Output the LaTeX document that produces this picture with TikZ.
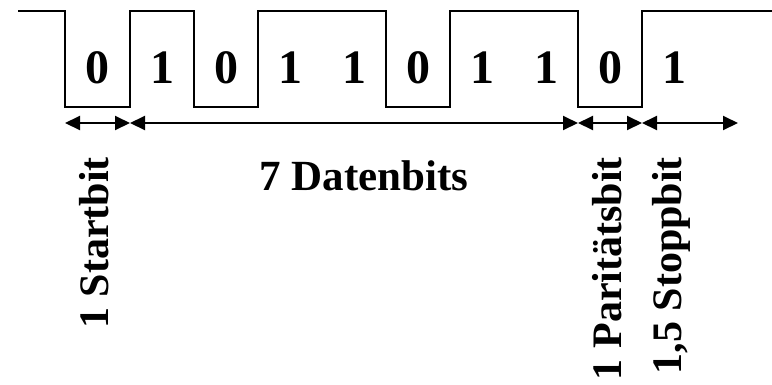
\documentclass[tikz,border=0pt]{standalone}
\usepackage{fontspec}
\setmainfont{Liberation Serif}
\usetikzlibrary{arrows.meta}
\tikzset{
  sig/.style={line width=2pt, line join=miter},
  dim/.style={line width=2pt, {Triangle[length=15pt,width=14pt]}-{Triangle[length=15pt,width=14pt]}, shorten <=0pt, shorten >=0pt},
  digit/.style={anchor=base, inner sep=0pt, font=\fontsize{48}{48}\selectfont\bfseries},
  lbl/.style={inner sep=0pt, font=\fontsize{43}{43}\selectfont\bfseries},
  vlbl/.style={inner sep=0pt, font=\fontsize{42}{42}\selectfont\bfseries, rotate=90, anchor=base east}
}
\begin{document}
\begin{tikzpicture}[x=1pt,y=-1pt]
\useasboundingbox (0,0) rectangle (772,384);
% waveform
\draw[sig] (18,11) -- (65,11) -- (65,107) -- (130,107) -- (130,11) -- (194,11)
  -- (194,107) -- (258,107) -- (258,11) -- (386,11) -- (386,107) -- (450,107)
  -- (450,11) -- (578,11) -- (578,107) -- (642,107) -- (642,11) -- (772,11);
% bit values
\node[digit] (d1) at (97.5,83) {0};
\node[digit] (d2) at (162,83) {1};
\node[digit] (d3) at (226,83) {0};
\node[digit] (d4) at (290,83) {1};
\node[digit] (d5) at (354,83) {1};
\node[digit] (d6) at (418,83) {0};
\node[digit] (d7) at (482,83) {1};
\node[digit] (d8) at (546,83) {1};
\node[digit] (d9) at (610,83) {0};
\node[digit] (d10) at (674,83) {1};
% dimension arrows
\coordinate (a0) at (65,123);
\coordinate (a1) at (130,123);
\coordinate (a2) at (578,123);
\coordinate (a3) at (642,123);
\coordinate (a4) at (738,123);
\draw[dim] (a0) -- (a1);
\draw[dim] (a1) -- (a2);
\draw[dim] (a2) -- (a3);
\draw[dim] (a3) -- (a4);
% labels
\node[lbl, anchor=base] (ldata) at (364,190) {7 Datenbits};
\node[vlbl] (lstart) at (108,157) {1 Startbit};
\node[vlbl] (lpar) at (621,157) {1 Paritätsbit};
\node[vlbl] (lstop) at (681,157) {1,5 Stoppbit};
\end{tikzpicture}
\end{document}
